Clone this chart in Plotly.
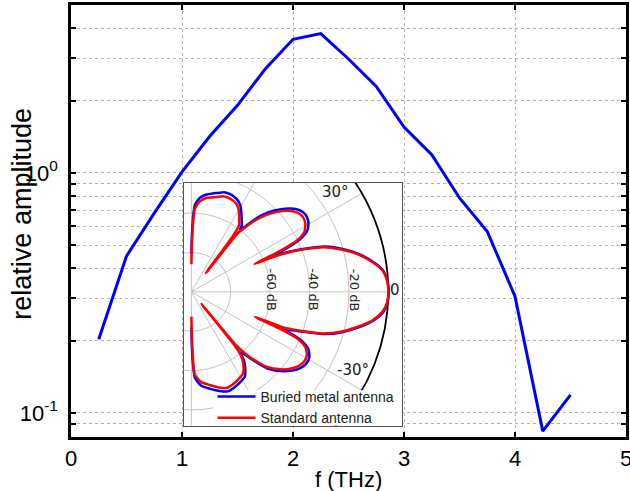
import numpy as np
import plotly.graph_objects as go

# ---------------- main spectrum data ----------------
freq_thz = [0.25, 0.5, 0.75, 1.0, 1.25, 1.5, 1.75, 2.0, 2.25, 2.5, 2.75, 3.0,
            3.25, 3.5, 3.75, 4.0, 4.25, 4.5]
rel_amp = [0.203, 0.45, 0.68, 1.01, 1.42, 1.91, 2.71, 3.60, 3.80, 2.98, 2.29, 1.55,
           1.19, 0.786, 0.57, 0.306, 0.084, 0.119]

x_tick_vals = [0, 1, 2, 3, 4, 5]
y_tick_vals = [0.08, 0.09, 0.1, 0.2, 0.3, 0.4, 0.5, 0.6, 0.7, 0.8, 0.9, 1, 2, 3, 4]
y_tick_text = ['', '', '10<sup>-1</sup>', '', '', '', '', '', '', '', '',
               '10<sup>0</sup>', '', '', '']

# ---------------- inset radiation patterns (angle in deg, level in dB) ----------------
standard_theta = [-90, -89.4, -88.6, -87.7, -84, -79, -74, -70, -66, -62,
                  -57.7, -54.5, -52.4, -51.3, -50.6, -50.0, -48.5, -47, -45, -41,
                  -38, -35, -32, -29, -26, -24, -22.8, -21.6, -21.4, -21.2,
                  -20, -17.5, -15, -12, -9, -6, -3, 0, 3, 6,
                  8.2, 11, 12.9, 16, 18.7, 20.5, 22, 23, 23.8, 24.8,
                  26, 28, 31, 34, 37, 40, 43, 46, 48.5, 50.5,
                  51.5, 52.4, 53.4, 54.5, 58, 60, 63, 66, 69, 72,
                  75, 78, 81, 84.8, 86.5, 87.7, 88.6, 89.4, 90]
standard_db = [-87.4, -76, -65, -58, -54, -51.8, -49.5, -48, -48.5, -49.5,
               -51, -54.5, -58.4, -64, -92, -64, -56.5, -52, -46.2, -40,
               -36.5, -34, -32.7, -33, -35.5, -40.5, -50, -65.4, -58, -50,
               -43, -29.7, -21.5, -14, -7, -2.5, -0.4, 0, -0.4, -2,
               -5, -10, -13.8, -21.5, -29.3, -38, -46, -55, -65, -50,
               -40, -35, -32.5, -31.8, -33, -36, -40.5, -46, -52, -58.5,
               -61.5, -88, -64, -58.3, -54.3, -52, -49.8, -49, -48.7, -49,
               -50.2, -51, -51.8, -54, -56, -58, -65, -75, -86]

buried_theta = [-90, -89.4, -88.6, -87.7, -84, -79, -74, -70, -66, -62,
                -57.7, -54.5, -52.4, -51, -49.5, -48.5, -47, -45, -41, -38,
                -35, -32, -29, -26, -24, -22.8, -21.8, -21.1, -20, -17.5,
                -15, -12, -9, -6, -3, 0, 3, 6, 8.2, 11,
                12.9, 16, 18.7, 20.5, 22, 23, 23.8, 24.6, 26, 28,
                31, 34, 37, 40, 43, 46, 48.5, 50.5, 51.8, 53,
                54.5, 58, 60, 63, 66, 69, 72, 75, 78, 81,
                84.8, 86.5, 87.7, 88.6, 89.4, 90]
buried_db = [-82, -71, -62, -56.5, -52, -49.8, -47.6, -46.2, -46.7, -47.7,
             -49.2, -53, -56.5, -60.5, -58, -55, -50.5, -44.7, -38.5, -35,
             -32.5, -31.2, -31.5, -34, -38.5, -45, -51, -46, -41.5, -28.7,
             -20.7, -13.2, -6.5, -2, -0.2, 0.2, -0.2, -1.7, -4.5, -9.4,
             -13.2, -20.7, -28.4, -36.8, -44.5, -50, -53.5, -46, -38, -33.2,
             -30.7, -30, -31.2, -34.2, -38.7, -44, -50.2, -57, -60, -57.5,
             -56, -52.2, -50, -48, -47, -46.6, -46.8, -48, -49, -50,
             -52, -54, -56, -61, -70, -81]

R_MIN_DB = -100                       # radial axis start (pole)
grid_circle_db = [-80, -60, -40, -20]
outer_circle_db = 0
spoke_deg = [-90, -60, -30, 0, 30, 60, 90]
radial_labels = ['-60 dB', '-40 dB', '-20 dB']
radial_label_db = [-60, -40, -20]
angle_labels = ['30°', '0', '-30°']
angle_label_deg = [34.6, 0.5, -25.8]
angle_label_db = [-11, 3.4, -9]

# inset frame in radial units (pole at 0,0)
INSET_X = [-3.76, 106.96]
INSET_Y = [-67.9, 55.26]
LEGEND_BOX_X0 = 11.0
LEGEND_BOX_Y1 = -50.0

FONT = "Liberation Sans, Arial, sans-serif"
POLAR_FONT = "DejaVu Sans, sans-serif"


def to_xy(theta_deg, level_db):
    th = np.radians(np.asarray(theta_deg, dtype=float))
    r = np.asarray(level_db, dtype=float) - R_MIN_DB
    return r * np.cos(th), r * np.sin(th)


fig = go.Figure()

# main curve
fig.add_trace(go.Scatter(x=freq_thz, y=rel_amp, mode='lines',
                         line=dict(color='#0000ff', width=3),
                         showlegend=False, hoverinfo='skip',
                         xaxis='x', yaxis='y'))

# patterns
bx, by = to_xy(buried_theta, buried_db)
fig.add_trace(go.Scatter(x=bx, y=by, mode='lines', name='Buried metal antenna',
                         line=dict(color='#0000ff', width=2.5, shape='spline', smoothing=0.6),
                         hoverinfo='skip', xaxis='x2', yaxis='y2'))
sx_, sy_ = to_xy(standard_theta, standard_db)
fig.add_trace(go.Scatter(x=sx_, y=sy_, mode='lines', name='Standard antenna',
                         line=dict(color='#ff0000', width=2.5, shape='spline', smoothing=0.6),
                         hoverinfo='skip', xaxis='x2', yaxis='y2'))

# polar grid as clipped shapes inside the inset (below the pattern traces)
shapes = []
for db in grid_circle_db:
    r = db - R_MIN_DB
    shapes.append(dict(type='circle', xref='x2', yref='y2', x0=-r, x1=r, y0=-r, y1=r,
                       line=dict(color='#c4c4c4', width=1), layer='below'))
for ang in spoke_deg:
    sx, sy = to_xy([ang, ang], [R_MIN_DB, outer_circle_db])
    shapes.append(dict(type='line', xref='x2', yref='y2',
                       x0=float(sx[0]), y0=float(sy[0]), x1=float(sx[1]), y1=float(sy[1]),
                       line=dict(color='#c4c4c4', width=1), layer='below'))
r_out = outer_circle_db - R_MIN_DB
shapes.append(dict(type='circle', xref='x2', yref='y2', x0=-r_out, x1=r_out,
                   y0=-r_out, y1=r_out, line=dict(color='black', width=1.8), layer='below'))
# white backing behind the legend entries
shapes.append(dict(type='rect', xref='x2', yref='y2', x0=LEGEND_BOX_X0, x1=INSET_X[1],
                   y0=INSET_Y[0], y1=LEGEND_BOX_Y1, fillcolor='white',
                   line=dict(width=0), layer='below'))

annotations = []
for txt, db, off in zip(radial_labels, radial_label_db, [0.6, 1.6, 2.6]):
    annotations.append(dict(x=db - R_MIN_DB + off, y=1.0, xref='x2', yref='y2',
                            text=txt, showarrow=False, textangle=90,
                            font=dict(family=POLAR_FONT, size=13, color='#222'),
                            xanchor='center', yanchor='middle'))
lx, ly = to_xy(angle_label_deg, angle_label_db)
for txt, x_, y_ in zip(angle_labels, lx, ly):
    annotations.append(dict(x=float(x_), y=float(y_), xref='x2', yref='y2',
                            text=txt, showarrow=False,
                            font=dict(family=POLAR_FONT, size=15, color='#222'),
                            xanchor='center', yanchor='middle'))
# axis titles
annotations.append(dict(x=-0.0883, y=0.517, xref='paper', yref='paper',
                        text='relative amplitude', showarrow=False, textangle=-90,
                        font=dict(family=FONT, size=27, color='black'),
                        xanchor='center', yanchor='middle'))
annotations.append(dict(x=0.5, y=-0.0995, xref='paper', yref='paper',
                        text='f (THz)', showarrow=False,
                        font=dict(family=FONT, size=22, color='black'),
                        xanchor='center', yanchor='middle'))

grid_style = dict(showgrid=True, gridcolor='#b4b4b4', gridwidth=1, griddash='dot')
frame_style = dict(showline=True, linecolor='black', linewidth=2.5, mirror='ticks',
                   ticks='inside', ticklen=5, tickwidth=2, tickcolor='black',
                   zeroline=False, automargin=False, ticklabeloverflow='allow',
                   tickfont=dict(family=FONT, size=22, color='black'))
inset_style = dict(showgrid=False, zeroline=False, showticklabels=False, ticks='',
                   showline=True, mirror=True, linecolor='#555', linewidth=1,
                   automargin=False)

fig.update_layout(
    width=630, height=491,
    margin=dict(l=71, r=4, t=5, b=54, autoexpand=False),
    paper_bgcolor='white', plot_bgcolor='white',
    font=dict(family=FONT, color='black'),
    hovermode=False,
    xaxis=dict(domain=[0, 1], range=[0, 5], tickmode='array', tickvals=x_tick_vals,
               ticklabelstandoff=0, **grid_style, **frame_style),
    yaxis=dict(domain=[0, 1], type='log', range=[-1.1, 0.699], tickmode='array',
               tickvals=y_tick_vals, ticktext=y_tick_text, ticklabelstandoff=6,
               **grid_style, **frame_style),
    xaxis2=dict(domain=[0.2036, 0.5964], range=INSET_X, anchor='y2', **inset_style),
    yaxis2=dict(domain=[0.0266, 0.588], range=INSET_Y, anchor='x2', **inset_style),
    legend=dict(x=0.255, y=0.1296, xanchor='left', yanchor='top',
                bgcolor='rgba(0,0,0,0)', borderwidth=0, itemwidth=38, tracegroupgap=0,
                font=dict(family=FONT, size=14, color='#222')),
    shapes=shapes,
    annotations=annotations,
)

fig.write_html("out.html", config={'displayModeBar': False},
               post_script="document.body.style.margin='0px';")
